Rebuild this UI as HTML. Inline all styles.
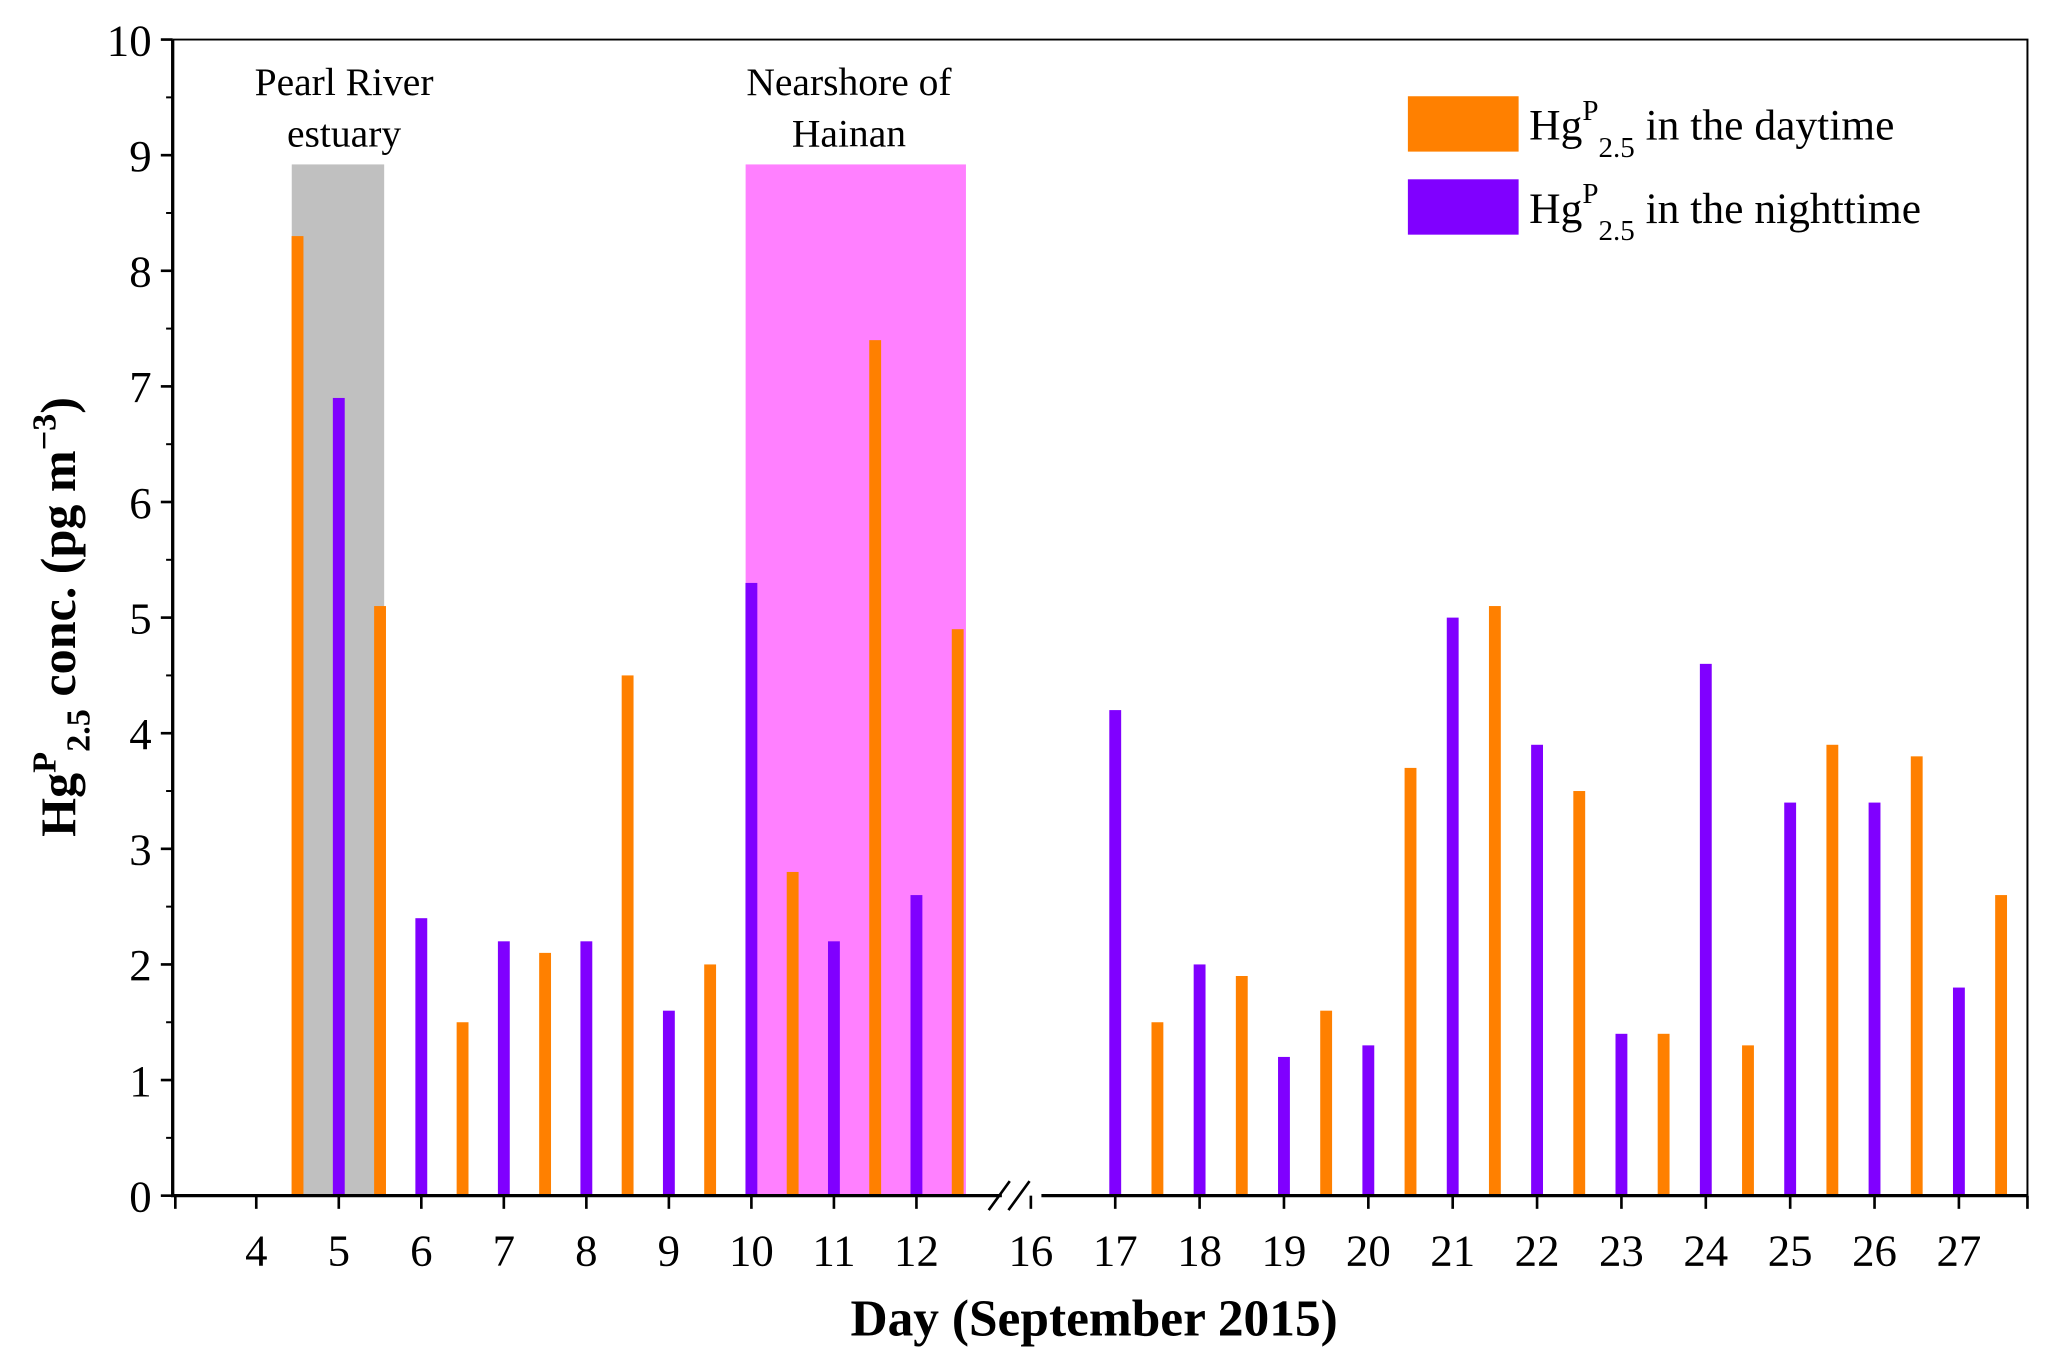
<!DOCTYPE html>
<html><head><meta charset="utf-8"><style>
html,body{margin:0;padding:0;background:#fff;}
svg{display:block;font-family:"Liberation Serif",serif;}
</style></head><body>
<svg id="chart" xmlns="http://www.w3.org/2000/svg" width="2067" height="1371" viewBox="0 0 1568 1040">
<rect x="0" y="0" width="1568" height="1040" fill="#fff"/>
<g id="bg"></g><g id="bars"></g><g id="axes"></g>
</svg>
<script>
const leftDays=[4,5,6,7,8,9,10,11,12];
const rightDays=[16,17,18,19,20,21,22,23,24,25,26,27];
const dayPosL=[4.5,5.5,6.5,7.5,8.5,9.5,10.5,11.5,12.5];
const dayValL=[8.3,5.1,1.5,2.1,4.5,2.0,2.8,7.4,4.9];
const nightPosL=[5,6,7,8,9,10,11,12];
const nightValL=[6.9,2.4,2.2,2.2,1.6,5.3,2.2,2.6];
const nightPosR=[17,18,19,20,21,22,23,24,25,26,27];
const nightValR=[4.2,2.0,1.2,1.3,5.0,3.9,1.4,4.6,3.4,3.4,1.8];
const dayPosR=[17.5,18.5,19.5,20.5,21.5,22.5,23.5,24.5,25.5,26.5,27.5];
const dayValR=[1.5,1.9,1.6,3.7,5.1,3.5,1.4,1.3,3.9,3.8,2.6];
const yTicks=[0,1,2,3,4,5,6,7,8,9,10];

const NS="http://www.w3.org/2000/svg";
const L=131,R=1538,T=30,B=907;
function y(v){return B-(B-T)*v/10;}
function x(d){return d<=14?257+(d-5)*62.6:846+(d-17)*64;}
function mk(tag,attrs,parent,text){const e=document.createElementNS(NS,tag);for(const k in attrs)e.setAttribute(k,attrs[k]);if(text!==undefined)e.textContent=text;document.getElementById(parent).appendChild(e);return e;}

let g=mk('rect',{x:x(4.43),y:y(8.92),width:x(5.55)-x(4.43),height:B-y(8.92),fill:'#C0C0C0'},'bg');


let p=mk('rect',{x:x(9.93),y:y(8.92),width:x(12.6)-x(9.93),height:B-y(8.92),fill:'#FF80FF'},'bg');


[['Pearl River',261,72],['estuary',261,111],['Nearshore of',644,72],['Hainan',644,111]].forEach(a=>{
 const t=mk('text',{x:a[1],y:a[2],'font-size':30,'text-anchor':'middle'},'bg',a[0]);
 
 
});

function bars(pos,vals,col,name){
 pos.forEach((d,i)=>{
  const r=mk('rect',{x:x(d)-4.5,y:y(vals[i]),width:9,height:B-y(vals[i]),fill:col},'bars');
  
  
 });
}
bars(dayPosL,dayValL,'#FF8000','day-bar');
bars(dayPosR,dayValR,'#FF8000','day-bar');
bars(nightPosL,nightValL,'#8000FF','night-bar');
bars(nightPosR,nightValR,'#8000FF','night-bar');

mk('path',{d:`M${L},${T}H${R}V${B}`,stroke:'#000','stroke-width':1.5,fill:'none'},'axes');
mk('path',{d:`M${L},${T}V${B}H760M790,${B}H${R}`,stroke:'#000','stroke-width':2.5,fill:'none'},'axes');
mk('path',{d:'M750,918L766,896M765,918L781,896',stroke:'#000','stroke-width':2,fill:'none'},'axes');
yTicks.forEach(v=>{
 mk('line',{x1:L-9,x2:L,y1:y(v),y2:y(v),stroke:'#000','stroke-width':2},'axes');
 if(v<10)mk('line',{x1:L-5,x2:L,y1:y(v+0.5),y2:y(v+0.5),stroke:'#000','stroke-width':1.5},'axes');
 const t=mk('text',{x:L-16,y:y(v)+12,'font-size':34,'text-anchor':'end'},'axes',String(v));
 
 
});
mk('line',{x1:L+2,x2:L+2,y1:B,y2:B+10,stroke:'#000','stroke-width':2},'axes');
mk('line',{x1:R,x2:R,y1:B,y2:B+10,stroke:'#000','stroke-width':2},'axes');
leftDays.concat(rightDays).forEach(d=>{
 mk('line',{x1:x(d),x2:x(d),y1:B,y2:B+10,stroke:'#000','stroke-width':2},'axes');
 const t=mk('text',{x:x(d),y:960,'font-size':34,'text-anchor':'middle'},'axes',String(d));
 
 
});
</script>
<svg style="position:absolute;left:0;top:0" width="2067" height="1371" viewBox="0 0 1568 1040">
<text x="830" y="1013" font-size="39" font-weight="bold" text-anchor="middle" font-family="Liberation Serif, serif">Day (September 2015)</text>
<text transform="translate(57,468) rotate(-90)" font-size="38" font-weight="bold" text-anchor="middle" font-family="Liberation Serif, serif">Hg<tspan dy="-15" font-size="26">P</tspan><tspan dy="26" font-size="26">2.5</tspan><tspan dy="-11"> conc. (pg m</tspan><tspan dy="-15" font-size="26">−3</tspan><tspan dy="15">)</tspan></text>
<rect x="1068" y="73" width="84" height="42" fill="#FF8000"/>
<rect x="1068" y="136" width="84" height="42" fill="#8000FF"/>
<text x="1160" y="106" font-size="33" font-family="Liberation Serif, serif">Hg<tspan dy="-15" font-size="22">P</tspan><tspan dy="28" font-size="22">2.5</tspan><tspan dy="-13"> in the daytime</tspan></text>
<text x="1160" y="169" font-size="33" font-family="Liberation Serif, serif">Hg<tspan dy="-15" font-size="22">P</tspan><tspan dy="28" font-size="22">2.5</tspan><tspan dy="-13"> in the nighttime</tspan></text>
</svg>
</body></html>
